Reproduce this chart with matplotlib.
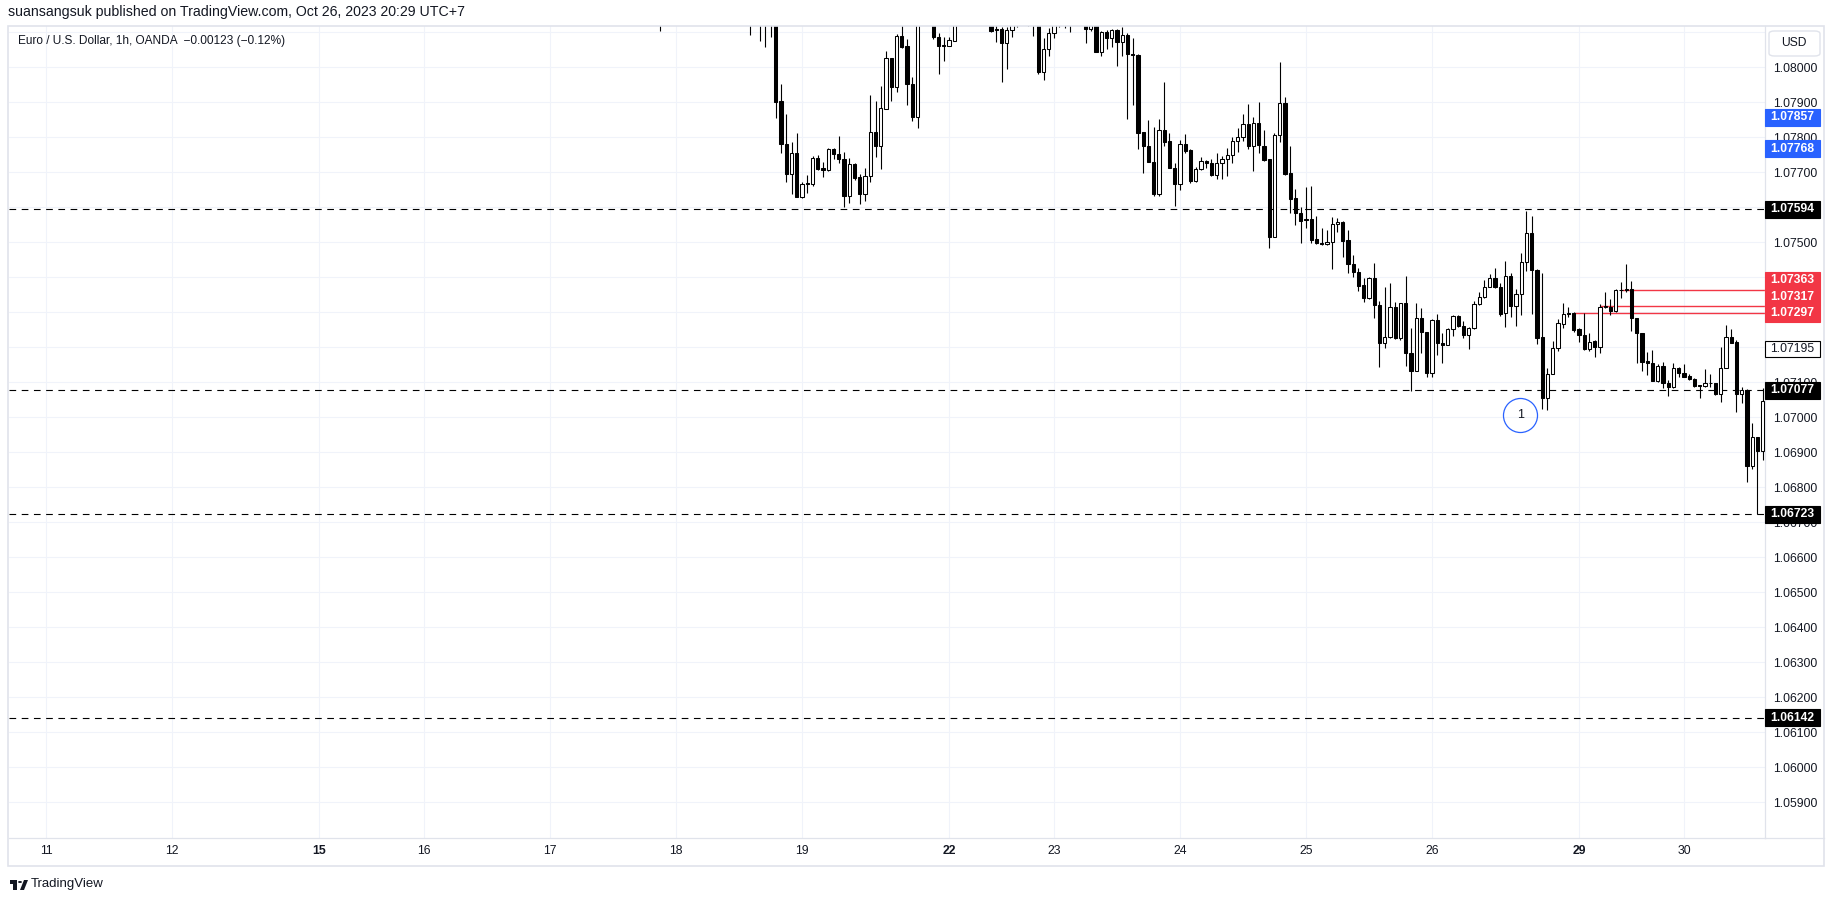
"""EUR/USD 1h candles (OANDA) with support / resistance levels, TradingView look."""

import numpy as np
import pandas as pd
import matplotlib
matplotlib.use("Agg")
import matplotlib.pyplot as plt
from matplotlib import transforms
from matplotlib.lines import Line2D
from matplotlib.patches import Rectangle, FancyBboxPatch, Polygon, Circle

plt.rcParams["font.family"] = ["Liberation Sans", "DejaVu Sans"]

W, H = 1835, 901

# hourly bars in UTC+7, market closed Sat 04:00 -> Mon 04:00
FIRST_BAR = "2023-05-11 00:00"
LAST_BAR = "2023-05-30 15:00"

# OHLC of the last bars on screen (oldest first)
open_ = [
    1.0818, 1.0816, 1.0818, 1.0821, 1.0824, 1.0822, 1.0825, 1.0827, 1.0826, 1.0823,
    1.0824, 1.0822, 1.0820, 1.0821, 1.0819, 1.0817, 1.0818, 1.0816, 1.0814, 1.0816,
    1.0813, 1.0814, 1.0815, 1.07904, 1.0778, 1.07694, 1.07754, 1.0763, 1.0767, 1.07666,
    1.07741, 1.07712, 1.07706, 1.07767, 1.07751, 1.07738, 1.07633, 1.07723, 1.07687, 1.07637,
    1.0769, 1.07814, 1.07776, 1.07881, 1.08026, 1.07945, 1.0809, 1.08061, 1.07951, 1.07859,
    1.0815, 1.0817, 1.0814, 1.08086, 1.08064, 1.08062, 1.08076, 1.08135, 1.0815, 1.0816,
    1.0817, 1.0815, 1.0814, 1.0813, 1.0811, 1.0811, 1.0807, 1.08107, 1.0812, 1.0814,
    1.0813, 1.08125, 1.0813, 1.07986, 1.08051, 1.08097, 1.0812, 1.0814, 1.0813, 1.0814,
    1.0816, 1.0815, 1.08109, 1.0812, 1.08045, 1.081, 1.08083, 1.08107, 1.08073, 1.08092,
    1.08038, 1.08035, 1.07814, 1.07776, 1.07729, 1.07637, 1.07821, 1.0779, 1.07711, 1.07668,
    1.0778, 1.07764, 1.07676, 1.07709, 1.07731, 1.07726, 1.07692, 1.07726, 1.07738, 1.0775,
    1.07789, 1.078, 1.07838, 1.07776, 1.0784, 1.07776, 1.07737, 1.07516, 1.07808, 1.07897,
    1.07697, 1.07626, 1.07583, 1.07566, 1.07566, 1.07508, 1.07499, 1.07494, 1.075, 1.07551,
    1.07557, 1.07506, 1.07437, 1.07416, 1.07378, 1.07342, 1.07397, 1.07322, 1.07211, 1.0723,
    1.07316, 1.07226, 1.07328, 1.07183, 1.07133, 1.07285, 1.07243, 1.07128, 1.07278, 1.07212,
    1.07208, 1.07251, 1.07289, 1.07262, 1.07235, 1.07254, 1.07323, 1.07343, 1.07373, 1.07399,
    1.07371, 1.07297, 1.07405, 1.07318, 1.07351, 1.07443, 1.07526, 1.07421, 1.0723, 1.07054,
    1.07123, 1.07197, 1.07268, 1.07299, 1.07299, 1.07251, 1.07235, 1.07194, 1.07218, 1.072,
    1.07314, 1.07316, 1.07305, 1.07365, 1.07365, 1.07366, 1.07283, 1.0724, 1.07161, 1.07154,
    1.07104, 1.07147, 1.07097, 1.07088, 1.0714, 1.07128, 1.07118, 1.07109, 1.07091, 1.0709,
    1.07097, 1.07097, 1.07068, 1.0714, 1.0723, 1.07214, 1.07067, 1.07078, 1.06862, 1.06944,
    1.06903,
]
high = [
    1.0821, 1.0820, 1.0823, 1.0825, 1.0827, 1.0826, 1.0829, 1.0830, 1.0828, 1.0826,
    1.0827, 1.0824, 1.0823, 1.0824, 1.0821, 1.0820, 1.0821, 1.0819, 1.0818, 1.0818,
    1.0816, 1.0817, 1.0817, 1.07951, 1.07866, 1.07786, 1.07811, 1.07671, 1.07691, 1.07747,
    1.0775, 1.07729, 1.0777, 1.0777, 1.07803, 1.07759, 1.0774, 1.07726, 1.07695, 1.07711,
    1.07921, 1.07904, 1.07947, 1.08047, 1.08028, 1.08094, 1.0812, 1.08081, 1.07973, 1.0817,
    1.0819, 1.0819, 1.0815, 1.08097, 1.08086, 1.08086, 1.08145, 1.0817, 1.0818, 1.0819,
    1.0820, 1.0817, 1.0816, 1.0814, 1.08125, 1.08115, 1.08114, 1.0813, 1.0815, 1.0816,
    1.0815, 1.0814, 1.0814, 1.08083, 1.08111, 1.0813, 1.0815, 1.0816, 1.0815, 1.0817,
    1.0818, 1.0817, 1.0813, 1.0813, 1.08105, 1.08107, 1.0811, 1.0811, 1.08116, 1.08097,
    1.08083, 1.08038, 1.07814, 1.0785, 1.07829, 1.07852, 1.07957, 1.07811, 1.07726, 1.07792,
    1.07809, 1.07767, 1.07716, 1.07743, 1.07735, 1.07738, 1.07754, 1.07748, 1.07769, 1.078,
    1.07827, 1.07867, 1.07895, 1.07859, 1.079, 1.07821, 1.07737, 1.07811, 1.08015, 1.07915,
    1.07775, 1.07651, 1.076, 1.07657, 1.07661, 1.07575, 1.07542, 1.07535, 1.07571, 1.0757,
    1.07561, 1.07535, 1.07463, 1.07426, 1.07397, 1.074, 1.0744, 1.07332, 1.07371, 1.07384,
    1.0733, 1.07328, 1.07404, 1.07254, 1.07328, 1.07311, 1.07243, 1.0728, 1.07294, 1.0724,
    1.07254, 1.07292, 1.07292, 1.07275, 1.07259, 1.07332, 1.07359, 1.07392, 1.07409, 1.07428,
    1.07384, 1.07447, 1.07411, 1.07368, 1.0747, 1.07589, 1.07575, 1.07423, 1.07411, 1.0714,
    1.07218, 1.07281, 1.07328, 1.07316, 1.07302, 1.07254, 1.07297, 1.0724, 1.07221, 1.07324,
    1.07357, 1.07338, 1.07366, 1.07387, 1.07438, 1.07389, 1.07283, 1.0724, 1.07186, 1.07192,
    1.07151, 1.07157, 1.07108, 1.07154, 1.07145, 1.07151, 1.07123, 1.07111, 1.07092, 1.07138,
    1.07124, 1.07099, 1.072, 1.07264, 1.07251, 1.07221, 1.07088, 1.0708, 1.06983, 1.06944,
    1.07083,
]
low = [
    1.08104, 1.0813, 1.0816, 1.0819, 1.0821, 1.0819, 1.0823, 1.0824, 1.0822, 1.0820,
    1.0821, 1.0818, 1.0817, 1.0818, 1.0815, 1.0814, 1.0815, 1.08092, 1.08125, 1.08076,
    1.08059, 1.08088, 1.07856, 1.07754, 1.07673, 1.07637, 1.0763, 1.07628, 1.07642, 1.07662,
    1.07707, 1.07688, 1.07705, 1.07738, 1.07728, 1.07602, 1.07611, 1.07678, 1.07609, 1.07619,
    1.07673, 1.07743, 1.0771, 1.0788, 1.07905, 1.07929, 1.08054, 1.07893, 1.07848, 1.07826,
    1.08125, 1.0813, 1.08081, 1.0798, 1.08019, 1.08062, 1.08076, 1.0812, 1.0813, 1.0814,
    1.08145, 1.08125, 1.0812, 1.08102, 1.08073, 1.07957, 1.07994, 1.08086, 1.08115, 1.0812,
    1.08118, 1.0809, 1.0798, 1.07964, 1.08033, 1.08085, 1.08115, 1.08111, 1.081, 1.08125,
    1.0813, 1.08069, 1.08105, 1.08045, 1.08032, 1.08051, 1.08059, 1.08005, 1.08033, 1.07852,
    1.07892, 1.07767, 1.07699, 1.07729, 1.07633, 1.07633, 1.07776, 1.07711, 1.07605, 1.0765,
    1.07756, 1.07669, 1.07673, 1.07707, 1.07711, 1.0769, 1.0768, 1.0768, 1.0769, 1.07728,
    1.07759, 1.0779, 1.07766, 1.07705, 1.07754, 1.07733, 1.07483, 1.07514, 1.07788, 1.07693,
    1.07583, 1.07549, 1.07499, 1.07542, 1.07499, 1.07495, 1.07492, 1.07492, 1.07424, 1.0753,
    1.07457, 1.07411, 1.07402, 1.07362, 1.0733, 1.07338, 1.07285, 1.07143, 1.07199, 1.07226,
    1.07224, 1.07222, 1.07147, 1.07075, 1.07133, 1.07183, 1.07116, 1.07116, 1.07178, 1.07154,
    1.07206, 1.07232, 1.07259, 1.07228, 1.07194, 1.07252, 1.07321, 1.0734, 1.07371, 1.07369,
    1.07289, 1.07257, 1.07288, 1.07262, 1.07292, 1.07419, 1.07294, 1.07209, 1.07023, 1.07021,
    1.07123, 1.0719, 1.07254, 1.07287, 1.07245, 1.07214, 1.07192, 1.0719, 1.07173, 1.07185,
    1.07311, 1.07292, 1.07302, 1.07342, 1.07359, 1.07247, 1.07156, 1.07133, 1.07121, 1.07104,
    1.07102, 1.07083, 1.07062, 1.07084, 1.07116, 1.07114, 1.07107, 1.07088, 1.07056, 1.07088,
    1.07086, 1.07064, 1.07045, 1.0714, 1.07211, 1.07014, 1.0704, 1.06814, 1.06852, 1.06723,
    1.06878,
]
close = [
    1.0816, 1.0818, 1.0821, 1.0824, 1.0822, 1.0825, 1.0827, 1.0826, 1.0823, 1.0824,
    1.0822, 1.0820, 1.0821, 1.0819, 1.0817, 1.0818, 1.0816, 1.0814, 1.0816, 1.0813,
    1.0814, 1.0815, 1.07902, 1.0778, 1.07694, 1.07754, 1.0763, 1.07666, 1.07666, 1.07741,
    1.0771, 1.07706, 1.07767, 1.07751, 1.07737, 1.07633, 1.07723, 1.07685, 1.07637, 1.0769,
    1.07814, 1.07776, 1.07883, 1.08026, 1.07945, 1.0809, 1.08059, 1.07951, 1.07859, 1.0815,
    1.0817, 1.0814, 1.08086, 1.08062, 1.08062, 1.08077, 1.08135, 1.0815, 1.0816, 1.0817,
    1.0815, 1.0814, 1.0813, 1.08105, 1.08106, 1.0807, 1.08107, 1.0812, 1.0814, 1.0813,
    1.08125, 1.0813, 1.07986, 1.08051, 1.08097, 1.0812, 1.0814, 1.0813, 1.0814, 1.0816,
    1.0815, 1.08109, 1.0812, 1.08045, 1.081, 1.08083, 1.08107, 1.08073, 1.08092, 1.08037,
    1.08034, 1.07811, 1.07776, 1.07729, 1.07637, 1.07821, 1.07788, 1.07711, 1.07668, 1.0778,
    1.07762, 1.07676, 1.07709, 1.07731, 1.07726, 1.07692, 1.07726, 1.07738, 1.0775, 1.07789,
    1.078, 1.07838, 1.07776, 1.0784, 1.07778, 1.07735, 1.07516, 1.07808, 1.07897, 1.07695,
    1.07624, 1.07583, 1.07562, 1.07564, 1.07508, 1.07497, 1.07494, 1.075, 1.07552, 1.07557,
    1.07505, 1.07437, 1.07416, 1.07376, 1.07342, 1.07397, 1.07321, 1.07211, 1.0723, 1.07316,
    1.07226, 1.07328, 1.07183, 1.07133, 1.07285, 1.07243, 1.07126, 1.07278, 1.07211, 1.07208,
    1.07251, 1.07289, 1.07262, 1.07235, 1.07254, 1.07323, 1.07343, 1.07373, 1.07399, 1.07371,
    1.07295, 1.07405, 1.07318, 1.07351, 1.07443, 1.07526, 1.07421, 1.07228, 1.07054, 1.07123,
    1.07197, 1.07268, 1.07294, 1.07294, 1.07249, 1.07235, 1.07194, 1.07216, 1.072, 1.07316,
    1.07318, 1.07305, 1.07364, 1.07364, 1.07366, 1.07283, 1.0724, 1.07159, 1.07154, 1.07104,
    1.07147, 1.07097, 1.07088, 1.0714, 1.07127, 1.07116, 1.07109, 1.0709, 1.0709, 1.07097,
    1.07097, 1.07068, 1.0714, 1.0723, 1.07213, 1.07067, 1.07078, 1.06862, 1.06944, 1.06903,
    1.07046,
]

# drawn levels
dashed_levels = [1.07594, 1.07077, 1.06723, 1.06142]
red_levels = [1.07297, 1.07317, 1.07363]
red_from = ["2023-05-27 03:00", "2023-05-29 08:00", "2023-05-29 12:00"]
blue_marks = [1.07857, 1.07768]
last_mark = 1.07195

HEADER = "suansangsuk published on TradingView.com, Oct 26, 2023 20:29 UTC+7"
TITLE = "Euro / U.S. Dollar, 1h, OANDA  \u22120.00123 (\u22120.12%)"

TXT = "#131722"
GRID = "#F0F3FA"
BORDER = "#E0E3EB"
RED = "#F23645"
BLUE = "#2962FF"


def fig_xy(px, py):
    return px / W, 1 - py / H


# bar positions: one slot per trading hour
hours = pd.date_range(FIRST_BAR, LAST_BAR, freq="h")
dow = hours.dayofweek
closed = ((dow == 5) & (hours.hour >= 4)) | (dow == 6) | ((dow == 0) & (hours.hour < 4))
bars = hours[~closed]
slot = pd.Series(np.arange(len(bars)), index=bars)

o, hi, lo, c = (np.array(v) for v in (open_, high, low, close))
x = np.arange(len(bars) - len(c), len(bars))
up = c >= o

# day ticks at the first bar of every weekday
tb = pd.DataFrame({"t": bars, "i": np.arange(len(bars))})
tb["day"] = tb["t"].dt.normalize()
firsts = tb[tb["t"].dt.dayofweek < 5].groupby("day")["i"].first()

fig = plt.figure(figsize=(W / 100, H / 100), dpi=100, facecolor="white")
ax = fig.add_axes([9 / W, 1 - 838 / H, 1756 / W, 812 / H])
ax.set_xlim(-7.05, 327.43)
ax.set_ylim(1.05798, 1.08118)

ax.set_axisbelow(True)
ax.grid(True, color=GRID, lw=0.8)

ax.vlines(x, lo, hi, color="black", lw=0.8, zorder=3)
ax.bar(x, np.abs(c - o), bottom=np.minimum(o, c), width=0.62,
       color=np.where(up, "white", "black"), edgecolor="black",
       linewidth=0.75, zorder=4)

for lv in dashed_levels:
    ax.axhline(lv, color="black", lw=0.8, ls=(0, (6, 5)), zorder=2)
for lv, t0 in zip(red_levels, red_from):
    ax.hlines(lv, slot[pd.Timestamp(t0)], ax.get_xlim()[1], color=RED, lw=1.0, zorder=2)

# circled "1"
ax.plot([280.8], [1.07007], marker="o", ms=24.5, mfc="none", mec=BLUE, mew=0.9,
        zorder=5, clip_on=False)
ax.text(280.8, 1.07007, "1", ha="center", va="center", fontsize=9, color=TXT, zorder=6)

# axes, ticks (1.08100 keeps its grid line, its label sits under the USD box)
yt = np.round(np.arange(1.059, 1.0815, 0.001), 3)
ax.set_yticks(yt)
ax.set_yticklabels([f"{v:.5f}" if v < 1.0805 else "" for v in yt])
ax.yaxis.tick_right()
ax.tick_params(axis="y", length=0, pad=5.5, labelsize=8.7, labelcolor=TXT)

ax.set_xticks(firsts.values)
ax.set_xticklabels([str(d.day) for d in firsts.index])
ax.tick_params(axis="x", length=0, pad=5, labelsize=8.8, labelcolor=TXT)
for lab, d in zip(ax.get_xticklabels(), firsts.index):
    if d.dayofweek == 0:
        lab.set_fontweight("bold")

for side in ("left", "top"):
    ax.spines[side].set_visible(False)
for side in ("right", "bottom"):
    ax.spines[side].set_color(BORDER)
    ax.spines[side].set_linewidth(0.9)

# price tags on the scale
trans = transforms.blended_transform_factory(ax.transAxes, ax.transData)
per_px = (ax.get_ylim()[1] - ax.get_ylim()[0]) / 812
tag_h = 16.5 * per_px
tag_w = 55 / 1756


def price_tag(ypos, text, face, fg, edge=None, bold=True):
    ax.add_patch(Rectangle((1.0, ypos - tag_h / 2), tag_w, tag_h, transform=trans,
                           facecolor=face, edgecolor=edge or face, lw=0.8,
                           clip_on=False, zorder=6))
    ax.text(1.0 + tag_w / 2, ypos, text, transform=trans, ha="center", va="center",
            fontsize=8.7, fontweight="bold" if bold else "normal", color=fg,
            clip_on=False, zorder=7)


for lv in dashed_levels:
    price_tag(lv, f"{lv:.5f}", "black", "white")
for lv in blue_marks:
    price_tag(lv, f"{lv:.5f}", BLUE, "white")
price_tag(last_mark, f"{last_mark:.5f}", "white", TXT, edge="black", bold=False)

# overlapping red tags are stacked upwards
prev = None
for lv in sorted(red_levels):
    ypos = lv if prev is None else max(lv, prev + tag_h)
    price_tag(ypos, f"{lv:.5f}", RED, "white")
    prev = ypos

# pane frame, currency box, texts
fig.add_artist(Rectangle(fig_xy(8, 866), 1816 / W, 840 / H, transform=fig.transFigure,
                         fill=False, ec=BORDER, lw=1.2))
fig.add_artist(Line2D([1765 / W, 1824 / W], [1 - 838 / H] * 2, color=BORDER, lw=0.9))
fig.add_artist(FancyBboxPatch(fig_xy(1769, 56), 51 / W, 25 / H,
                              boxstyle="round,pad=0,rounding_size=0.003",
                              transform=fig.transFigure, ec=BORDER, fc="white", lw=1))
fig.text(*fig_xy(1794, 43), "USD", ha="center", va="center", fontsize=8.7, color=TXT)

fig.text(*fig_xy(8, 12), HEADER, ha="left", va="center", fontsize=10.2, color=TXT)
fig.text(*fig_xy(18, 41), TITLE, ha="left", va="center", fontsize=8.6, color=TXT)

# TradingView logo
logo = [
    Rectangle(fig_xy(10, 884), 7 / W, 4 / H),
    Rectangle(fig_xy(13, 890), 4 / W, 10 / H),
    Polygon([fig_xy(20, 890), fig_xy(24, 890), fig_xy(28, 880), fig_xy(24, 880)]),
]
for p in logo:
    p.set_transform(fig.transFigure)
    p.set_facecolor(TXT)
    p.set_edgecolor("none")
    fig.add_artist(p)
fig.add_artist(Circle(fig_xy(20, 882), 2 / W, transform=fig.transFigure, fc=TXT, ec="none"))
fig.text(*fig_xy(31, 884), "TradingView", ha="left", va="center", fontsize=9.5, color=TXT)

fig.savefig("out.png", dpi=100, facecolor="white")
plt.close(fig)
